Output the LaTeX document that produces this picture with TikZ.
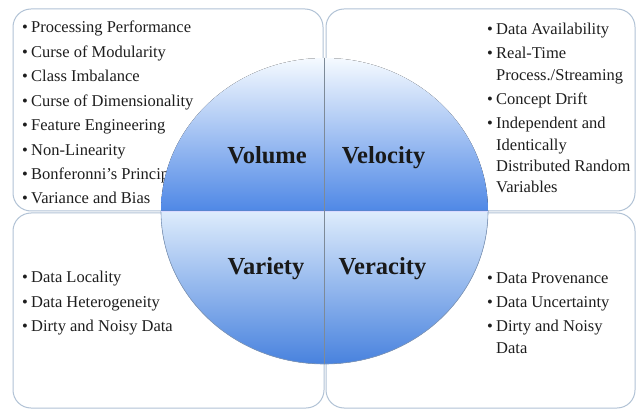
\documentclass[tikz,border=0pt]{standalone}
\usepackage{fontspec}
\setmainfont{Liberation Serif}
\definecolor{boxline}{RGB}{178,195,214}
\definecolor{topA}{RGB}{245,250,255}
\definecolor{topB}{RGB}{79,136,230}
\definecolor{botA}{RGB}{222,236,252}
\definecolor{botM}{RGB}{165,198,242}
\definecolor{botB}{RGB}{72,130,222}
\definecolor{sepline}{RGB}{125,138,152}
\definecolor{rimline}{RGB}{130,155,190}
\definecolor{txt}{RGB}{30,30,30}
\tikzset{
  box/.style={draw=boxline, line width=1pt, rounded corners=18pt, fill=white, inner sep=0pt, outer sep=0pt},
  itemline/.style={anchor=base west, inner sep=0pt, text=txt, font=\fontsize{16.5}{19}\selectfont},
  title/.style={anchor=base, inner sep=0pt, text=black!90, font=\fontsize{24.5}{28}\selectfont\bfseries}
}
\newcommand{\bul}{\makebox[9pt][l]{\textbullet}}
\newcommand{\ind}{\hspace*{9pt}}
\begin{document}
\begin{tikzpicture}[x=1pt,y=1pt]
\useasboundingbox (0,0) rectangle (642,410);
\fill[white] (0,0) rectangle (642,410);
% boxes
\node[box, minimum width=310pt, minimum height=202pt] (tl) at (168,300) {};
\node[box, minimum width=309pt, minimum height=202pt] (tr) at (480.5,300) {};
\node[box, minimum width=311pt, minimum height=195pt] (bl) at (168.5,99.5) {};
\node[box, minimum width=309pt, minimum height=195pt] (br) at (480.5,99.5) {};
% top-left list
\node[itemline] (tl1) at (22,377) {\bul Processing Performance};
\node[itemline] (tl2) at (22,352.6) {\bul Curse of Modularity};
\node[itemline] (tl3) at (22,328.1) {\bul Class Imbalance};
\node[itemline] (tl4) at (22,303.7) {\bul Curse of Dimensionality};
\node[itemline] (tl5) at (22,279.3) {\bul Feature Engineering};
\node[itemline] (tl6) at (22,254.8) {\bul Non-Linearity};
\node[itemline] (tl7) at (22,230.4) {\bul Bonferonni’s Principle};
\node[itemline] (tl8) at (22,206) {\bul Variance and Bias};
% top-right list
\node[itemline] (tr1) at (487,375) {\bul Data Availability};
\node[itemline] (tr2) at (487,351) {\bul Real-Time};
\node[itemline] (tr3) at (487,329) {\ind Process./Streaming};
\node[itemline] (tr4) at (487,305) {\bul Concept Drift};
\node[itemline] (tr5) at (487,281) {\bul Independent and};
\node[itemline] (tr6) at (487,259) {\ind Identically};
\node[itemline] (tr7) at (487,238) {\ind Distributed Random};
\node[itemline] (tr8) at (487,217) {\ind Variables};
% bottom-left list
\node[itemline] (bl1) at (22,128) {\bul Data Locality};
\node[itemline] (bl2) at (22,103) {\bul Data Heterogeneity};
\node[itemline] (bl3) at (22,79) {\bul Dirty and Noisy Data};
% bottom-right list
\node[itemline] (br1) at (487,127) {\bul Data Provenance};
\node[itemline] (br2) at (487,103) {\bul Data Uncertainty};
\node[itemline] (br3) at (487,79) {\bul Dirty and Noisy};
\node[itemline] (br4) at (487,57) {\ind Data};
% circle halves
\fill[top color=topA, bottom color=topB]
  (161,199) arc[start angle=180, end angle=0, x radius=163.5, y radius=153] -- cycle;
\fill[top color=botA, middle color=botM, bottom color=botB]
  (161,199) arc[start angle=180, end angle=360, x radius=163.5, y radius=153] -- cycle;
\draw[rimline, line width=0.6pt]
  (161,199) arc[start angle=180, end angle=360, x radius=163.5, y radius=153];
\draw[white!85!blue, line width=0.9pt] (161,199) -- (488,199);
\draw[sepline, line width=1.4pt] (324.3,46) -- (324.3,352);
% titles
\node[title] (volume) at (267,246) {Volume};
\node[title] (velocity) at (383.5,246) {Velocity};
\node[title] (variety) at (266,136) {Variety};
\node[title] (veracity) at (382.5,136) {Veracity};
\end{tikzpicture}
\end{document}
